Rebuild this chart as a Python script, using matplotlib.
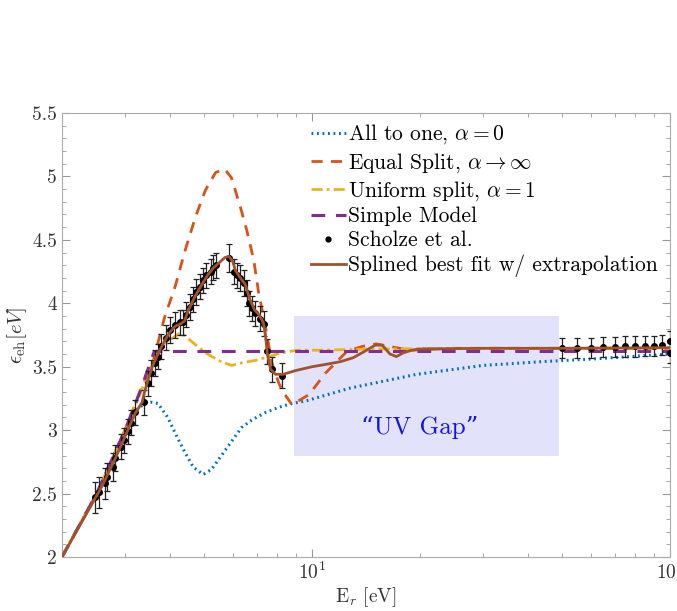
import matplotlib
matplotlib.use("Agg")
import matplotlib.pyplot as plt
from matplotlib.lines import Line2D
from matplotlib.ticker import MultipleLocator, FuncFormatter, LogLocator, NullFormatter

plt.rcParams['font.family'] = ['cmr10', 'DejaVu Serif']
plt.rcParams['mathtext.fontset'] = 'cm'
plt.rcParams['axes.formatter.use_mathtext'] = True

# Scholze et al. measurements
data_E = [2.48, 2.54, 2.63, 2.68, 2.77, 2.82, 2.92, 2.99, 3.05, 3.11, 3.19, 3.39,
          3.48, 3.54, 3.64, 3.71, 3.78, 3.91, 4.01, 4.14, 4.28, 4.36, 4.45, 4.56,
          4.65, 4.75, 4.87, 4.97, 5.06, 5.20, 5.30, 5.40, 5.84, 6.03, 6.16, 6.30,
          6.43, 6.57, 6.65, 6.79, 6.94, 7.17, 7.32, 7.48, 7.73, 8.25,
          50, 55, 60, 65, 70, 75, 80, 85, 90, 95, 100, 100]
data_y = [2.47, 2.51, 2.58, 2.63, 2.71, 2.78, 2.87, 2.92, 2.99, 3.06, 3.14, 3.22,
          3.37, 3.45, 3.53, 3.58, 3.66, 3.73, 3.79, 3.83, 3.85, 3.85, 3.91, 3.97,
          4.03, 4.09, 4.13, 4.18, 4.22, 4.25, 4.28, 4.30, 4.36, 4.25, 4.22, 4.20,
          4.16, 4.08, 4.00, 3.96, 3.92, 3.88, 3.84, 3.62, 3.48, 3.43,
          3.645, 3.65, 3.65, 3.655, 3.655, 3.66, 3.66, 3.665, 3.665, 3.67, 3.70, 3.61]
data_err = [0.12, 0.12, 0.12, 0.11, 0.11, 0.1, 0.1, 0.1, 0.1, 0.1, 0.1, 0.1,
            0.1, 0.1, 0.1, 0.1, 0.1, 0.1, 0.1, 0.1, 0.1, 0.1, 0.1, 0.1,
            0.1, 0.1, 0.1, 0.1, 0.1, 0.1, 0.1, 0.1, 0.11, 0.1, 0.1, 0.1,
            0.1, 0.1, 0.1, 0.1, 0.1, 0.1, 0.1, 0.1, 0.1, 0.1,
            0.08, 0.08, 0.08, 0.08, 0.08, 0.08, 0.08, 0.08, 0.08, 0.08, 0.08, 0.08]

# All to one, alpha = 0
one_E = [2.0, 2.5, 3.0, 3.2, 3.4, 3.55, 3.71, 3.95, 4.17, 4.42, 4.65, 4.96, 5.23,
         5.58, 5.95, 6.35, 6.78, 7.42, 8.07, 8.78, 9.6, 12.7, 19.6, 30, 44, 60, 100]
one_y = [2.0, 2.5, 3.0, 3.15, 3.21, 3.22, 3.21, 3.10, 2.96, 2.82, 2.71, 2.65, 2.69,
         2.80, 2.91, 3.02, 3.08, 3.14, 3.18, 3.21, 3.23, 3.33, 3.44, 3.51, 3.54, 3.56, 3.60]

# Equal split, alpha -> inf
eq_E = [2.0, 2.5, 3.0, 3.3, 3.6, 3.87, 4.14, 4.42, 4.72, 5.03, 5.37, 5.69, 5.95,
        6.3, 6.56, 6.87, 7.09, 7.32, 7.52, 7.72, 8.07, 8.3, 8.78, 9.8, 10.9, 12.5,
        13.8, 15.1, 17.2, 18.8, 25, 100]
eq_y = [2.0, 2.5, 3.0, 3.3, 3.55, 3.89, 4.13, 4.42, 4.68, 4.89, 5.03, 5.06, 4.99,
        4.76, 4.58, 4.34, 4.08, 3.89, 3.71, 3.53, 3.37, 3.30, 3.20, 3.28, 3.45, 3.62,
        3.66, 3.68, 3.65, 3.63, 3.645, 3.645]

# Uniform split, alpha = 1
uni_E = [2.0, 2.5, 3.0, 3.3, 3.6, 3.95, 4.3, 4.6, 5.03, 5.47, 5.95, 6.35, 6.95,
         7.57, 8.23, 9.07, 10.3, 15, 30, 100]
uni_y = [2.0, 2.5, 3.0, 3.28, 3.55, 3.70, 3.77, 3.70, 3.61, 3.55, 3.51, 3.53, 3.55,
         3.58, 3.61, 3.63, 3.63, 3.64, 3.645, 3.645]

# Simple model
simple_E = [2.0, 2.5, 3.0, 3.3, 3.62, 100]
simple_y = [2.0, 2.5, 3.0, 3.3, 3.62, 3.62]

# Splined best fit
fit_E = [2.0, 2.45, 2.6, 2.8, 3.0, 3.2, 3.35, 3.4, 3.5, 3.6, 3.75, 3.9, 4.0, 4.15,
         4.3, 4.4, 4.5, 4.7, 4.9, 5.1, 5.3, 5.5, 5.7, 5.85, 6.0, 6.1, 6.3, 6.5, 6.7,
         6.9, 7.1, 7.3, 7.4, 7.5, 7.65, 7.9, 8.3, 9.0, 10, 11, 12, 13, 14, 15, 15.7,
         16.5, 17.2, 18, 19, 20, 30, 50, 100]
fit_y = [2.0, 2.44, 2.57, 2.76, 2.95, 3.13, 3.22, 3.30, 3.42, 3.52, 3.63, 3.72, 3.77,
         3.82, 3.84, 3.86, 3.94, 4.05, 4.14, 4.22, 4.28, 4.32, 4.36, 4.37, 4.33, 4.26,
         4.20, 4.15, 4.03, 3.95, 3.91, 3.85, 3.76, 3.60, 3.48, 3.44, 3.44, 3.47, 3.50,
         3.52, 3.54, 3.57, 3.62, 3.67, 3.67, 3.60, 3.58, 3.61, 3.63, 3.64, 3.645,
         3.645, 3.65]

gap_E = [8.9, 49]
gap_y = [2.8, 3.9]

fig = plt.figure(figsize=(6.77, 6.11), dpi=100)
ax = fig.add_axes([62 / 677, 54 / 611, 608 / 677, 444 / 611])

ax.fill_between(gap_E, gap_y[0], gap_y[1], color='#e2e2fa', lw=0, zorder=0)
ax.text(20, 3.02, '\u201cUV Gap\u201d', color='#1414e6', fontsize=18,
        ha='center', va='center', zorder=1)

l_one, = ax.plot(one_E, one_y, ls=(0, (0.6, 1.2)), color='#0072BD', lw=2.2, zorder=2)
l_eq, = ax.plot(eq_E, eq_y, ls=(0, (4, 3)), color='#D95319', lw=2.0, zorder=3)
l_uni, = ax.plot(uni_E, uni_y, ls=(0, (4, 1.5, 1, 1.5)), color='#EDB120', lw=2.0, zorder=3)
l_simple, = ax.plot(simple_E, simple_y, ls=(0, (4.5, 3.5)), color='#7E2F8E', lw=2.2, zorder=3)
ax.errorbar(data_E, data_y, yerr=data_err, fmt='o', color='black', ms=4,
            ecolor='#222222', elinewidth=0.9, capsize=2.5, capthick=0.9, zorder=4)
l_fit, = ax.plot(fit_E, fit_y, color='#A0522D', lw=2.0, zorder=5)
dot = Line2D([], [], ls='none', marker='o', color='black', ms=3.5)

ax.set_xscale('log')
ax.set_xlim(2, 100)
ax.set_ylim(2, 5.5)
ax.yaxis.set_major_locator(MultipleLocator(0.5))
ax.yaxis.set_minor_locator(MultipleLocator(0.1))
ax.yaxis.set_major_formatter(FuncFormatter(lambda v, p: ('%g' % v)))
ax.xaxis.set_major_locator(LogLocator(base=10))
ax.xaxis.set_minor_locator(LogLocator(base=10, subs=range(2, 10)))
ax.xaxis.set_minor_formatter(NullFormatter())

for s in ax.spines.values():
    s.set_color('#aaaaaa')
ax.tick_params(which='both', direction='in', top=True, right=True,
               color='#999999', labelsize=14, labelcolor='#333333')
ax.tick_params(which='major', length=6)
ax.tick_params(which='minor', length=3)

ax.set_xlabel(r'E$_r$ [eV]', fontsize=14, color='#333333')
ax.xaxis.set_label_coords(0.5, -0.063)
ax.set_ylabel(r'$\epsilon_{\rm eh}[eV]$', fontsize=15, color='#333333', labelpad=2)

handles = [l_one, l_eq, l_uni, l_simple, dot, l_fit]
labels = [r'All to one, $\alpha = 0$', r'Equal Split, $\alpha \to \infty$',
          r'Uniform split, $\alpha = 1$', 'Simple Model', 'Scholze et al.',
          'Splined best fit w/ extrapolation']
ax.legend(handles, labels, loc='upper left', bbox_to_anchor=(0.385, 1.012),
          frameon=False, fontsize=15.5, handlelength=1.6, handletextpad=0.1,
          labelspacing=0.2, borderaxespad=0.3)

fig.savefig('out.png', dpi=100)
